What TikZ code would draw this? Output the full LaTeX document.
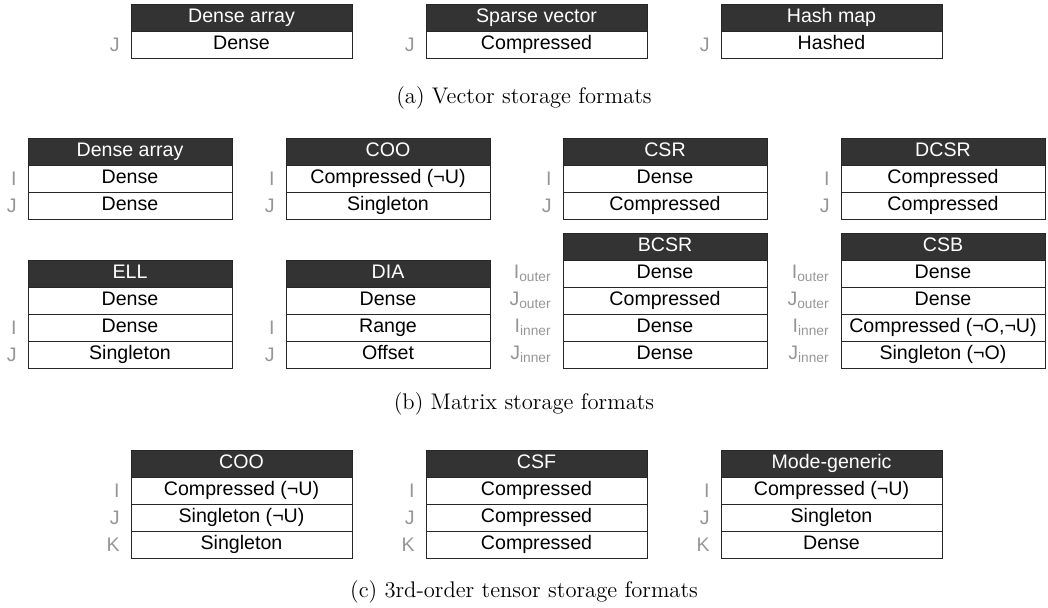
\documentclass[tikz,border=0pt]{standalone}
\usepackage{fontspec}
\setsansfont{Liberation Sans}
\usetikzlibrary{positioning}

\definecolor{hdrgray}{RGB}{51,51,51}
\definecolor{idxgray}{RGB}{150,150,150}

% one storage format: name, top-left corner, width, title, index/level pairs
\newcommand{\fmtbox}[5]{%
    \node[hdr, minimum width = #3, anchor = north west] (#1-0) at #2 {#4};
    \foreach \ix/\lv [count = \k, remember = \k as \p (initially 0)] in {#5}{
        \node[lvl, minimum width = #3, below = 0pt of #1-\p] (#1-\k) {\lv};
        \node[idx, left = 5.5pt of #1-\k] (#1-i\k) {\ix};
    }
}

\begin{document}
\begin{tikzpicture}[x = 0.5pt, y = -0.5pt,
    hdr/.style = {shape = rectangle, draw = black!85, line width = 0.5pt, fill = hdrgray,
        text = white, font = \sffamily\fontsize{9.8}{11}\selectfont,
        minimum height = 13.5pt, inner sep = 0pt, outer sep = 0pt,
        text height = 7pt, text depth = 2pt},
    lvl/.style = {hdr, fill = white, text = black},
    idx/.style = {text = idxgray, font = \sffamily\fontsize{9.8}{11}\selectfont, inner sep = 0pt},
    fmtcap/.style = {font = \fontsize{11.3}{13}\selectfont}]
    \useasboundingbox (0,0) rectangle (1048,607);

    % (a) vectors
    \fmtbox{dav}{(131,4)}{110.5pt}{Dense array}{J/Dense}
    \fmtbox{spv}{(426,4)}{110.5pt}{Sparse vector}{J/Compressed}
    \fmtbox{hsh}{(721,4)}{110.5pt}{Hash map}{J/Hashed}
    \node[fmtcap] (capa) at (524,98) {(a) Vector storage formats};

    % (b) matrices
    \fmtbox{dam}{(28,138)}{102pt}{Dense array}{I/Dense, J/Dense}
    \fmtbox{coom}{(286,138)}{102pt}{COO}{I/Compressed (¬U), J/Singleton}
    \fmtbox{csr}{(563,138)}{102pt}{CSR}{I/Dense, J/Compressed}
    \fmtbox{dcsr}{(841,138)}{102pt}{DCSR}{I/Compressed, J/Compressed}
    \fmtbox{ell}{(28,260)}{102pt}{ELL}{/Dense, I/Dense, J/Singleton}
    \fmtbox{dia}{(286,260)}{102pt}{DIA}{/Dense, I/Range, J/Offset}
    \fmtbox{bcsr}{(563,233)}{102pt}{BCSR}{I\textsubscript{outer}/Dense, J\textsubscript{outer}/Compressed,
        I\textsubscript{inner}/Dense, J\textsubscript{inner}/Dense}
    \fmtbox{csb}{(841,233)}{102pt}{CSB}{I\textsubscript{outer}/Dense, J\textsubscript{outer}/Dense,
        I\textsubscript{inner}/{Compressed (¬O,¬U)}, J\textsubscript{inner}/Singleton (¬O)}
    \node[fmtcap] (capb) at (524,404) {(b) Matrix storage formats};

    % (c) 3rd-order tensors
    \fmtbox{coot}{(131,450)}{110.5pt}{COO}{I/Compressed (¬U), J/Singleton (¬U), K/Singleton}
    \fmtbox{csf}{(426,450)}{110.5pt}{CSF}{I/Compressed, J/Compressed, K/Compressed}
    \fmtbox{mgen}{(721,450)}{110.5pt}{Mode-generic}{I/Compressed (¬U), J/Singleton, K/Dense}
    \node[fmtcap] (capc) at (524,592) {(c) 3rd-order tensor storage formats};
\end{tikzpicture}
\end{document}
